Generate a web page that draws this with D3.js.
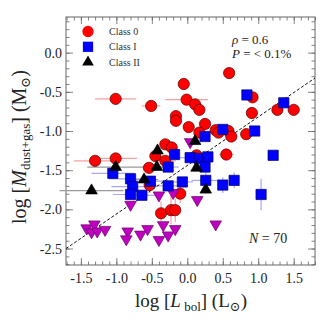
<!DOCTYPE html>
<html>
<head>
<meta charset="utf-8">
<script src="https://cdn.jsdelivr.net/npm/d3@7"></script>
<style>
  body { margin: 0; background: #fff; }
  text { font-family: "Liberation Serif", "DejaVu Serif", serif; }
</style>
</head>
<body>
<div id="chart"></div>
<script>
// Class 0 (red circles): log Lbol, log Mass, x error, y error
var class0X = [-1.01, -0.51, -0.05, -0.01, -0.16, -0.16, 0.02, -0.31, -0.22, -1.30, -1.01, -0.45, -0.31, -0.54,
    0.59, 0.11, 0.17, 0.92, 0.91, 1.27, 1.50, 0.25, 0.17, 0.40, 0.44, 0.58, 0.62, 0.83, 0.13, 0.55,
    -0.53, -0.10, -0.37, -0.23, -0.17];
var class0Y = [-0.59, -0.68, -0.40, -0.60, -0.81, -0.87, -0.95, -1.17, -1.21, -1.38, -1.35, -1.32, -1.38, -1.47,
    -0.26, -0.66, -0.73, -0.57, -0.77, -0.73, -0.73, -0.91, -1.02, -0.99, -1.02, -1.00, -1.07, -1.04, -1.31, -1.30,
    -1.69, -1.80, -2.05, -2.01, -2.01];
var class0XErr = [0.29, 0.13, 0, 0.30, 0, 0, 0, 0, 0, 0.30, 0.30, 0, 0.15, 0,
    0, 0, 0, 0, 0, 0, 0, 0, 0, 0, 0, 0, 0, 0, 0, 0.10,
    0, 0, 0, 0, 0];
var class0YErr = [0, 0, 0, 0, 0, 0, 0, 0, 0, 0, 0, 0, 0, 0,
    0, 0, 0, 0, 0, 0, 0, 0, 0, 0, 0, 0, 0, 0, 0, 0,
    0.10, 0.12, 0.15, 0.18, 0.15];

// Class I (blue squares)
var class1X = [0.84, 1.36, 0.50, 0.95, 0.25, 0.04, 0.17, 0.29, 1.21, 0.25, -0.18, -0.27, -1.05, -0.80, -0.52,
    -0.77, -0.27, -0.07, -0.80, -0.64, 0.26, 0.50, 0.66, 1.04];
var class1Y = [-0.54, -0.64, -0.98, -1.00, -1.07, -1.34, -1.35, -1.33, -1.31, -1.46, -1.30, -1.46, -1.54, -1.61, -1.64,
    -1.71, -1.70, -1.65, -1.81, -1.82, -1.63, -1.69, -1.63, -1.81];
var class1XErr = [0, 0, 0, 0, 0, 0.15, 0.20, 0, 0, 0, 0, 0.15, 0.30, 0.30, 0.25,
    0.30, 0.20, 0.15, 0.25, 0.20, 0.20, 0, 0, 0];
var class1YErr = [0, 0, 0, 0, 0, 0, 0, 0, 0, 0, 0, 0, 0, 0, 0,
    0, 0, 0, 0, 0, 0.10, 0.10, 0.10, 0.20];

// Class II (black triangles)
var class2X = [0.11, 0.13, -0.42, -0.43, -1.01, -0.61, -1.35, 0.26];
var class2Y = [-1.13, -1.47, -1.25, -1.46, -1.46, -1.62, -1.76, -1.75];
var class2XErr = [0, 0, 0, 0.15, 0.40, 0.20, 0.45, 0];
var class2YErr = [0, 0, 0, 0, 0, 0, 0, 0.05];

// magenta down-pointing triangles
var limitX = [0.04, -0.80, -0.40, -0.20, -1.42, -1.31, -1.35, -1.27, -1.16, -0.84, -0.86, -0.66, -0.56,
    -0.40, -0.34, -0.27, -0.17, 0.14, 0.40];
var limitY = [-1.14, -1.94, -1.82, -1.79, -2.24, -2.19, -2.29, -2.28, -2.26, -2.28, -2.38, -2.32, -2.25,
    -2.39, -2.20, -2.33, -2.25, -1.88, -2.19];

var fitSlope = 0.62;
var fitIntercept = -1.44;

var xMajor = [-1.5, -1.0, -0.5, 0.0, 0.5, 1.0, 1.5];
var yMajor = [-2.5, -2.0, -1.5, -1.0, -0.5, 0.0];
var xDomain = [-1.71, 1.80];
var yDomain = [-2.71, 0.455];

var width = 332;
var height = 332;
var padding = { left: 66, right: 17, top: 17, bottom: 67 };
var axisColor = '#666';

var svg = d3.select('#chart')
    .append('svg')
    .attr('width', width)
    .attr('height', height);

var x = d3.scaleLinear().domain(xDomain).range([padding.left, width - padding.right]);
var y = d3.scaleLinear().domain(yDomain).range([height - padding.bottom, padding.top]);

var xMinor = d3.range(-17, 19).map(function (d) { return d / 10; });
var yMinor = d3.range(-27, 5).map(function (d) { return d / 10; });

function styleAxis(g) {
    g.select('.domain').remove();
    g.selectAll('line').attr('stroke', axisColor).attr('stroke-width', 0.8);
    g.selectAll('text')
        .attr('fill', '#222')
        .style('font-family', '"Liberation Serif", serif')
        .style('font-size', '14px');
}

var bottom = height - padding.bottom;
var right = width - padding.right;

// minor ticks on all sides
svg.append('g').attr('transform', 'translate(0,' + bottom + ')')
    .call(d3.axisBottom(x).tickValues(xMinor).tickSize(-3.5).tickFormat('')).call(styleAxis);
svg.append('g').attr('transform', 'translate(0,' + padding.top + ')')
    .call(d3.axisTop(x).tickValues(xMinor).tickSize(-3.5).tickFormat('')).call(styleAxis);
svg.append('g').attr('transform', 'translate(' + padding.left + ',0)')
    .call(d3.axisLeft(y).tickValues(yMinor).tickSize(-3.5).tickFormat('')).call(styleAxis);
svg.append('g').attr('transform', 'translate(' + right + ',0)')
    .call(d3.axisRight(y).tickValues(yMinor).tickSize(-3.5).tickFormat('')).call(styleAxis);

// major ticks
svg.append('g').attr('transform', 'translate(0,' + bottom + ')')
    .call(d3.axisBottom(x).tickValues(xMajor).tickSize(-7).tickPadding(8).tickFormat(d3.format('.1f')))
    .call(styleAxis);
svg.append('g').attr('transform', 'translate(0,' + padding.top + ')')
    .call(d3.axisTop(x).tickValues(xMajor).tickSize(-7).tickFormat('')).call(styleAxis);
svg.append('g').attr('transform', 'translate(' + padding.left + ',0)')
    .call(d3.axisLeft(y).tickValues(yMajor).tickSize(-7).tickPadding(4).tickFormat(d3.format('.1f')))
    .call(styleAxis);
svg.append('g').attr('transform', 'translate(' + right + ',0)')
    .call(d3.axisRight(y).tickValues(yMajor).tickSize(-7).tickFormat('')).call(styleAxis);

// plain hyphen for negative labels, like the reference
svg.selectAll('.tick text').text(function () { return this.textContent.replace('\u2212', '-'); });

svg.append('rect')
    .attr('x', padding.left).attr('y', padding.top)
    .attr('width', right - padding.left).attr('height', bottom - padding.top)
    .attr('fill', 'none').attr('stroke', axisColor).attr('stroke-width', 1);

var plot = svg.append('g');

function drawErrors(xs, ys, xe, ye, color) {
    var g = plot.append('g').attr('stroke', color).attr('stroke-width', 1.2);
    xs.forEach(function (d, i) {
        if (xe[i] > 0) {
            g.append('line')
                .attr('x1', x(d - xe[i])).attr('x2', x(d + xe[i]))
                .attr('y1', y(ys[i])).attr('y2', y(ys[i]));
        }
        if (ye[i] > 0) {
            g.append('line')
                .attr('x1', x(d)).attr('x2', x(d))
                .attr('y1', y(ys[i] - ye[i])).attr('y2', y(ys[i] + ye[i]));
        }
    });
}

drawErrors(class0X, class0Y, class0XErr, class0YErr, '#f4a0a0');
drawErrors(class1X, class1Y, class1XErr, class1YErr, '#a8a8f4');
drawErrors(class2X, class2Y, class2XErr, class2YErr, '#9a9a9a');

// dashed correlation line
plot.append('line')
    .attr('x1', x(xDomain[0])).attr('y1', y(fitSlope * xDomain[0] + fitIntercept))
    .attr('x2', x(xDomain[1])).attr('y2', y(fitSlope * xDomain[1] + fitIntercept))
    .attr('stroke', '#111').attr('stroke-width', 1).attr('stroke-dasharray', '3,2');

var circle = d3.symbol().type(d3.symbolCircle).size(100);
var square = d3.symbol().type(d3.symbolSquare).size(105);
var triangle = d3.symbol().type(d3.symbolTriangle).size(58);

function drawMarks(xs, ys, sym, fill, stroke, flip) {
    plot.append('g').selectAll('path')
        .data(xs)
        .enter()
        .append('path')
        .attr('d', sym)
        .attr('transform', function (d, i) {
            return 'translate(' + x(d) + ',' + y(ys[i]) + ')' + (flip ? ' rotate(180)' : '');
        })
        .attr('fill', fill)
        .attr('stroke', stroke)
        .attr('stroke-width', 0.7);
}

drawMarks(class0X, class0Y, circle, '#ff0000', '#5a0000', false);
drawMarks(limitX, limitY, triangle, '#bf00bf', '#6a006a', true);
drawMarks(class1X, class1Y, square, '#0000ff', '#00006a', false);
drawMarks(class2X, class2Y, triangle, '#000000', '#000000', false);

// legend
var legendItems = [
    { name: 'Class 0', sym: circle, fill: '#ff0000' },
    { name: 'Class I', sym: square, fill: '#0000ff' },
    { name: 'Class II', sym: triangle, fill: '#000000' }
];
var legend = svg.append('g').selectAll('g')
    .data(legendItems)
    .enter()
    .append('g')
    .attr('transform', function (d, i) { return 'translate(88,' + (31.5 + i * 15.3) + ')'; });
legend.append('path')
    .attr('d', function (d) { return d.sym(); })
    .attr('fill', function (d) { return d.fill; });
legend.append('text')
    .attr('x', 21)
    .attr('y', 3.5)
    .attr('font-size', '10px')
    .attr('fill', '#333')
    .text(function (d) { return d.name; });

// statistics
var stats = svg.append('g').attr('font-size', '13px').attr('fill', '#222');
var rho = stats.append('text').attr('x', 232).attr('y', 44);
rho.append('tspan').attr('font-style', 'italic').text('\u03c1');
rho.append('tspan').text(' = 0.6');
var pval = stats.append('text').attr('x', 232).attr('y', 58);
pval.append('tspan').attr('font-style', 'italic').text('P');
pval.append('tspan').text(' = < 0.1%');
var nText = stats.append('text').attr('x', 249).attr('y', 243).attr('font-size', '14px');
nText.append('tspan').attr('font-style', 'italic').text('N');
nText.append('tspan').text(' = 70');

// axis labels
var xLabel = svg.append('text')
    .attr('x', 191)
    .attr('y', 307)
    .attr('text-anchor', 'middle')
    .attr('font-size', '19px')
    .attr('fill', '#222');
xLabel.append('tspan').text('log [');
xLabel.append('tspan').attr('font-style', 'italic').text('L');
xLabel.append('tspan').attr('font-size', '13px').attr('dy', 4).text(' bol');
xLabel.append('tspan').attr('dy', -4).text('] (L');
xLabel.append('tspan').attr('font-size', '13px').attr('dy', 4).text('\u2299');
xLabel.append('tspan').attr('dy', -4).text(')');

var yLabel = svg.append('text')
    .attr('transform', 'translate(26,' + ((padding.top + bottom) / 2 + 6) + ') rotate(-90)')
    .attr('text-anchor', 'middle')
    .attr('font-size', '20px')
    .attr('fill', '#222');
yLabel.append('tspan').text('log [');
yLabel.append('tspan').attr('font-style', 'italic').text('M');
yLabel.append('tspan').attr('font-size', '13px').attr('dy', 4).text('dust+gas');
yLabel.append('tspan').attr('dy', -4).text('] (M');
yLabel.append('tspan').attr('font-size', '13px').attr('dy', 4).text('\u2299');
yLabel.append('tspan').attr('dy', -4).text(')');
</script>
</body>
</html>
